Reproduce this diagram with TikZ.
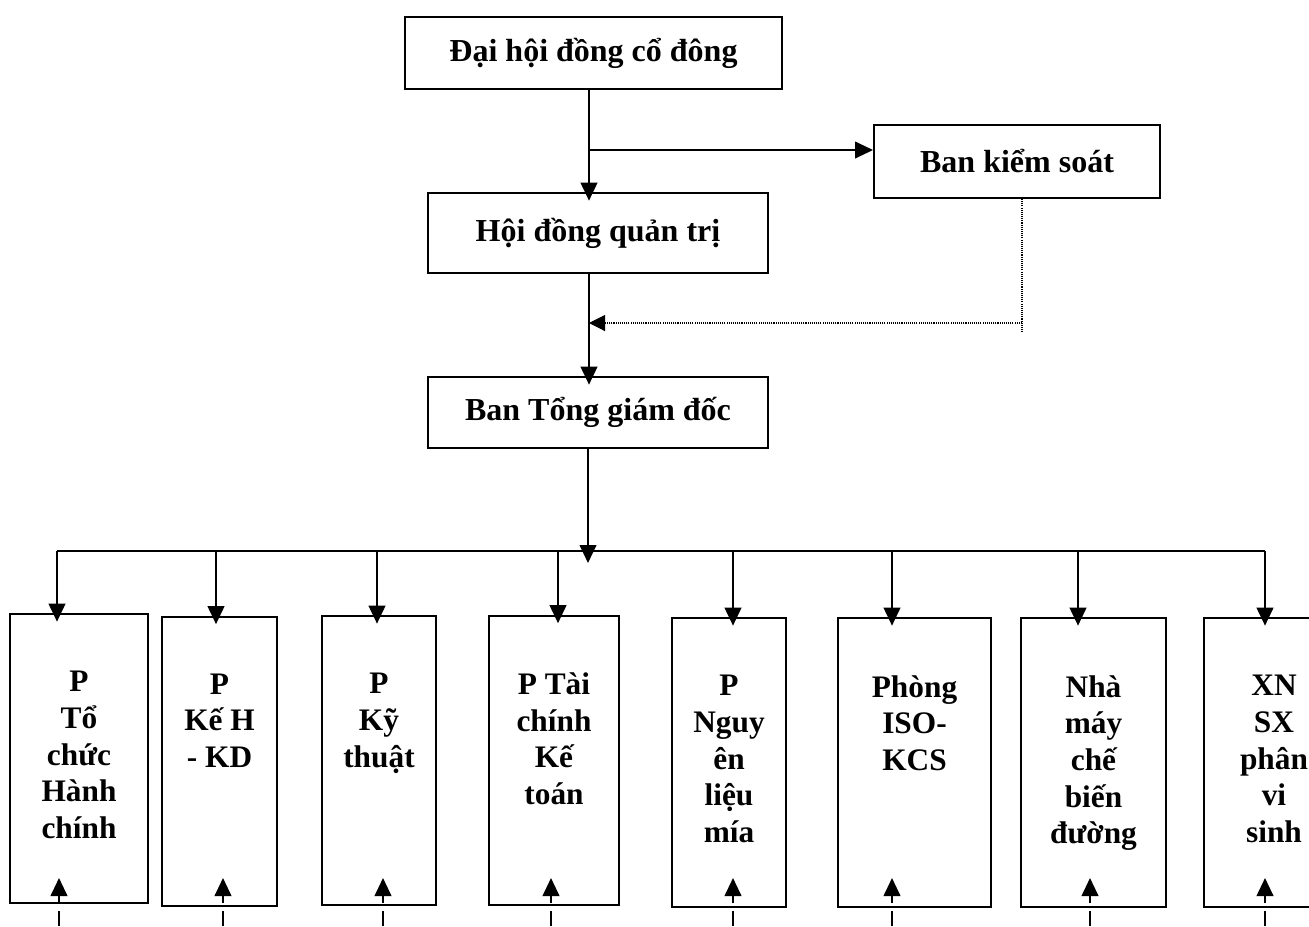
\documentclass[tikz,border=0pt]{standalone}
\usepackage{fontspec}
\setmainfont{Liberation Serif}
\usetikzlibrary{positioning, arrows.meta}

\begin{document}
\begin{tikzpicture}[x=0.75pt, y=-0.75pt]
  \tikzstyle{box} = [rectangle, draw, line width=1.5pt, inner sep=0pt,
    font=\fontsize{24}{28}\selectfont\bfseries]
  \tikzstyle{dept} = [box, minimum height=289*0.75pt]
  \tikzstyle{dtext} = [anchor=north, inner sep=0pt, yshift=-58*0.75pt, align=center,
    font=\fontsize{23.5}{27.5}\selectfont\bfseries]
  \tikzstyle{arr} = [line width=1.5pt, -{Triangle[length=13.5pt, width=12.5pt]}]
  \tikzstyle{into} = [arr, shorten >=-6.5pt]
  \tikzstyle{uparr} = [arr, dash pattern=on 11pt off 6pt]
  \tikzstyle{dotline} = [line width=0.8pt, dash pattern=on 0.8pt off 0.8pt]

  \useasboundingbox (0,0) rectangle (1309,926);

  % Cap tren
  \node[box, minimum width=377*0.75pt, minimum height=72*0.75pt] (dhdcd) at (593.5,53) {Đại hội đồng cổ đông};
  \node[box, minimum width=286*0.75pt, minimum height=73*0.75pt] (bks) at (1017,161.5) {Ban kiểm soát};
  \node[box, minimum width=340*0.75pt, minimum height=80*0.75pt] (hdqt) at (598,233) {Hội đồng quản trị};
  \node[box, minimum width=340*0.75pt, minimum height=71*0.75pt] (btgd) at (598,412.5) {Ban Tổng giám đốc};

  \coordinate (trunk) at (589,0);
  \coordinate (fork) at (589,150);
  \coordinate (ks) at (1022,323);
  \coordinate (bustip) at (588,563);
  \coordinate (busL) at (57,551);
  \coordinate (busR) at (1265,551);

  \draw[into] (dhdcd.south -| trunk) -- (hdqt.north -| trunk);
  \draw[arr] (fork) -- (fork -| bks.west);
  \draw[into] (hdqt.south -| trunk) -- (btgd.north -| trunk);
  \draw[dotline] (bks.south -| ks) -- ([yshift=-10*0.75pt]ks);
  \draw[dotline, -{Triangle[length=12pt, width=12pt]}] (ks) -- (ks -| trunk);
  \draw[arr] (btgd.south -| bustip) -- (bustip);
  \draw[line width=1.5pt] (busL) -- (busR);

  % Cac phong ban
  \foreach \cx/\w/\cy/\dx/\ux/\txt [count=\i] in {
      79/138/758.5/57/59/{P\\Tổ\\chức\\Hành\\chính},
      219.5/115/761/216/223/{P\\Kế H\\- KD},
      379/114/760.5/377/383/{P\\Kỹ\\thuật},
      554/130/760/558/551/{P Tài\\chính\\Kế\\toán},
      729/114/762.5/733/733/{P\\Nguy\\ên\\liệu\\mía},
      914.5/153/762.5/892/892/{Phòng\\ISO-\\KCS},
      1093.5/145/762.5/1078/1090/{Nhà\\máy\\chế\\biến\\đường},
      1274/140/762.5/1265/1265/{XN\\SX\\phân\\vi\\sinh}} {
    \node[dept, minimum width=\w*0.75pt, label={[dtext]north:\txt}] (p\i) at (\cx,\cy) {};
    \draw[into] (\dx,551) -- (\dx,551 |- p\i.north);
    \coordinate (u\i) at (\ux,926);
    \draw[uparr] (u\i) -- ++(0,-48);
  }
\end{tikzpicture}
\end{document}
